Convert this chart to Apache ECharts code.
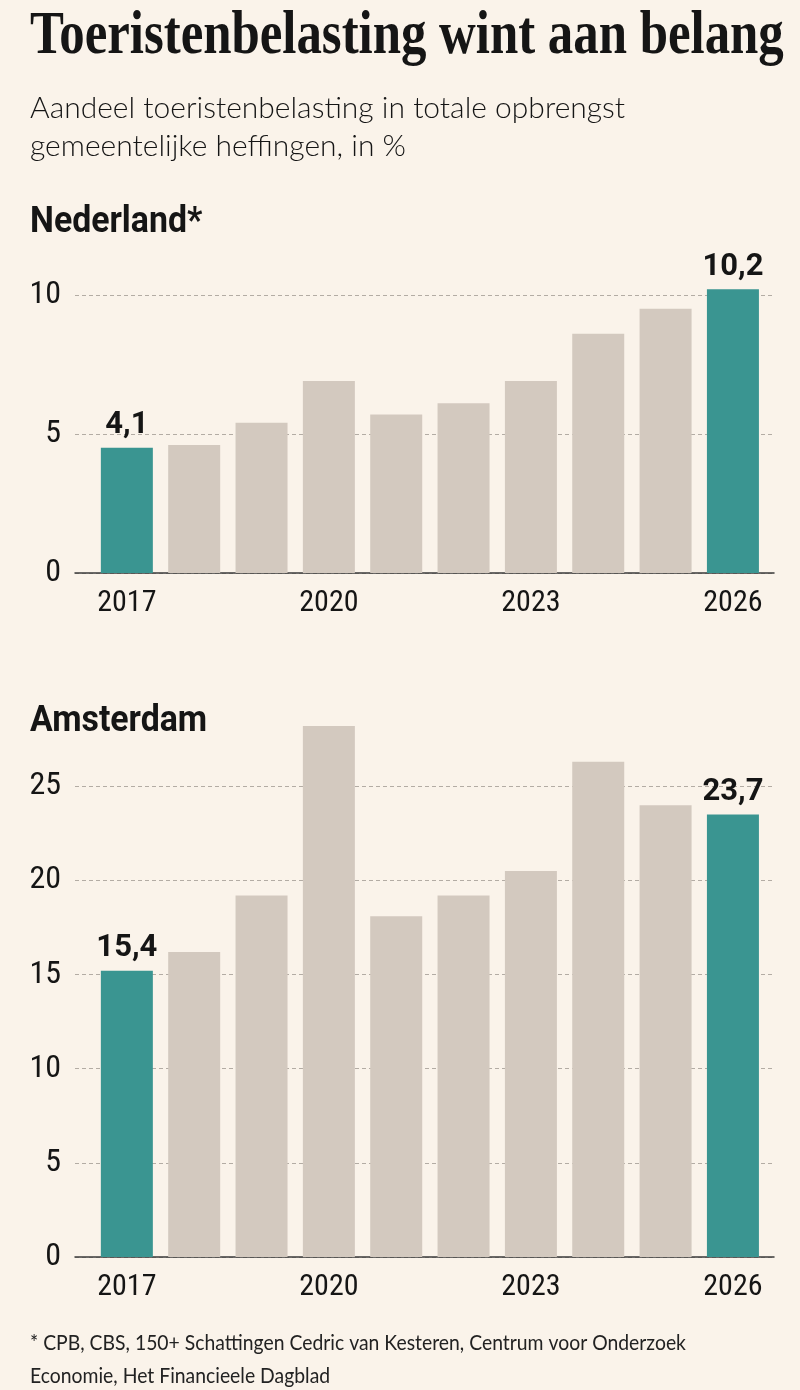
<!DOCTYPE html>
<html>
<head>
<meta charset="utf-8">
<script src="https://cdn.jsdelivr.net/npm/echarts@6/dist/echarts.min.js"></script>
<style>
html,body{margin:0;padding:0;background:#faf3ea;}
#c{width:800px;height:1390px;}
</style>
</head>
<body>
<div id="c"></div>
<script>
// ---- data ----
const years = [2017, 2018, 2019, 2020, 2021, 2022, 2023, 2024, 2025, 2026];
const nlValues = [4.5, 4.6, 5.4, 6.9, 5.7, 6.1, 6.9, 8.6, 9.5, 10.2];
const amsValues = [15.2, 16.2, 19.2, 28.2, 18.1, 19.2, 20.5, 26.3, 24.0, 23.5];
const nlLabels = ['4,1', '', '', '', '', '', '', '', '', '10,2'];
const amsLabels = ['15,4', '', '', '', '', '', '', '', '', '23,7'];
const xTickYears = [2017, 2020, 2023, 2026];
const titleText = 'Toeristenbelasting wint aan belang';
const subtitleText = 'Aandeel toeristenbelasting in totale opbrengst\ngemeentelijke heffingen, in %';
const nlHeader = 'Nederland*';
const amsHeader = 'Amsterdam';
const footerText = '* CPB, CBS, 150+ Schattingen Cedric van Kesteren, Centrum voor Onderzoek\nEconomie, Het Financieele Dagblad';

// ---- styles ----
const TEAL = '#3a9591';
const GRAY = '#d3c9bf';
const BG = '#faf3ea';
const INK = '#151515';
const NARROW = '"Liberation Sans Narrow", "Roboto Condensed", "DejaVu Sans Condensed", sans-serif';

const chart = echarts.init(document.getElementById('c'), null, {renderer: 'canvas'});

function xAxisCfg(gridIndex) {
  return {
    type: 'value', gridIndex: gridIndex,
    min: 2016.23, max: 2026.61,
    axisLine: {show: true, onZero: false, lineStyle: {color: '#3b3b3b', width: 1.5}},
    axisTick: {show: false},
    splitLine: {show: false},
    axisLabel: {
      customValues: xTickYears,
      formatter: v => String(v),
      color: INK, fontFamily: NARROW, fontSize: 30, margin: 15
    }
  };
}
function yAxisCfg(gridIndex, max) {
  return {
    type: 'value', gridIndex: gridIndex,
    min: 0, max: max, interval: 5,
    axisLine: {show: false}, axisTick: {show: false},
    axisLabel: {color: INK, fontFamily: NARROW, fontSize: 32, margin: 14, showMaxLabel: false},
    splitLine: {show: true, showMaxLine: false, lineStyle: {color: '#b3aca4', type: [4, 3], width: 1}}
  };
}
function barSeries(idx, values, labels) {
  return {
    type: 'bar', xAxisIndex: idx, yAxisIndex: idx,
    data: years.map((y, i) => [y, values[i]]),
    barWidth: 52,
    itemStyle: {color: p => (p.dataIndex === 0 || p.dataIndex === years.length - 1) ? TEAL : GRAY},
    label: {
      show: true, position: 'top', distance: 7,
      formatter: p => labels[p.dataIndex],
      color: INK, fontFamily: 'Roboto, sans-serif', fontWeight: 'bold', fontSize: 31
    },
    emphasis: {disabled: true},
    silent: true
  };
}

chart.setOption({
  backgroundColor: BG,
  animation: false,
  grid: [
    {left: 75, width: 699, top: 281, height: 292},
    {left: 75, width: 699, top: 711, height: 546}
  ],
  xAxis: [xAxisCfg(0), xAxisCfg(1)],
  yAxis: [yAxisCfg(0, 10.5), yAxisCfg(1, 29)],
  series: [barSeries(0, nlValues, nlLabels), barSeries(1, amsValues, amsLabels)],
  graphic: [
    {type: 'text', x: 30, y: 6, scaleX: 0.82, style: {text: titleText, x: 0, y: 0, fill: INK,
      font: 'bold 62px "Liberation Serif", "DejaVu Serif", serif', verticalAlign: 'top'}},
    {type: 'text', x: 30, y: 89, style: {text: subtitleText, x: 0, y: 0, fill: INK,
      font: '300 30px Lato, sans-serif', lineHeight: 38, verticalAlign: 'top'}},
    {type: 'text', x: 30, y: 205, scaleX: 0.94, style: {text: nlHeader, x: 0, y: 0, fill: INK,
      font: 'bold 36px Roboto, sans-serif', verticalAlign: 'top'}},
    {type: 'text', x: 30, y: 704, scaleX: 0.94, style: {text: amsHeader, x: 0, y: 0, fill: INK,
      font: 'bold 36px Roboto, sans-serif', verticalAlign: 'top'}},
    {type: 'text', x: 30, y: 1326, scaleX: 0.88, style: {text: footerText, x: 0, y: 0, fill: '#222',
      font: '22px Lato, sans-serif', lineHeight: 33.5, verticalAlign: 'top'}}
  ]
});
</script>
</body>
</html>
